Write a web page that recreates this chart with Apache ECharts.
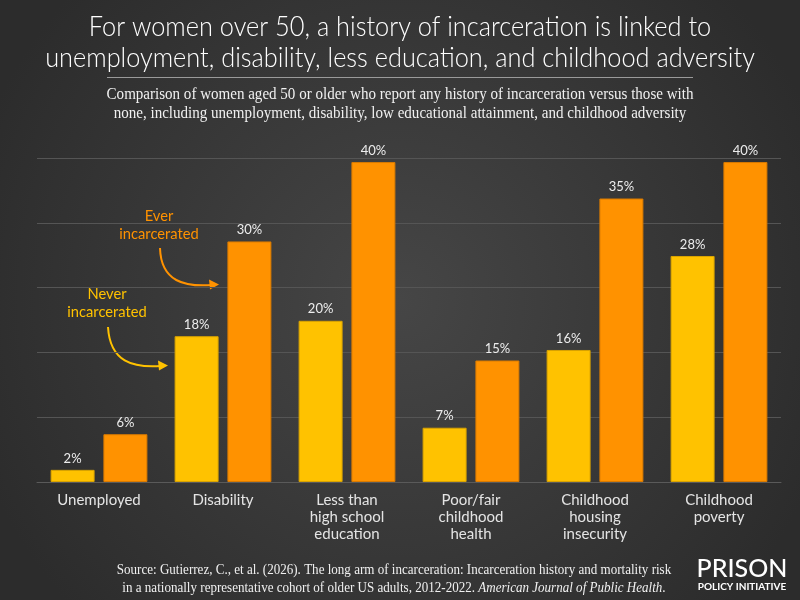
<!DOCTYPE html>
<html><head><meta charset="utf-8">
<script src="https://cdn.jsdelivr.net/npm/echarts@6/dist/echarts.min.js"></script>
<style>html,body{margin:0;padding:0;background:#3a3a3a}#c{width:800px;height:600px}</style>
</head><body><div id="c"></div>
<script>
const categories = ['Unemployed','Disability','Less than\nhigh school\neducation','Poor/fair\nchildhood\nhealth','Childhood\nhousing\ninsecurity','Childhood\npoverty'];
const neverIncarcerated = [1.5, 18.0, 19.9, 6.7, 16.3, 27.9];
const everIncarcerated = [5.9, 29.7, 39.5, 15.0, 35.0, 39.5];
const yTicks = [0, 8, 16, 24, 32, 40];
const titleLines = ['For women over 50, a history of incarceration is linked to','unemployment, disability, less education, and childhood adversity'];
const subtitleLines = ['Comparison of women aged 50 or older who report any history of incarceration versus those with','none, including unemployment, disability, low educational attainment, and childhood adversity'];

const YEL = '#FFC200', ORG = '#FF9200';
const sans = 'Lato';
const chart = echarts.init(document.getElementById('c'));
const pct = p => Math.round(p.value) + '%';
const labelCfg = {show:true, position:'top', distance:5, color:'#ededed', fontFamily:sans, fontSize:13, formatter:pct};

chart.setOption({
  backgroundColor:'#3a3a3a',
  animation:false,
  grid:{left:37, right:19, top:158, bottom:118},
  xAxis:{type:'category', data:categories,
    axisLine:{lineStyle:{color:'#5a5a5a', width:1}}, axisTick:{show:false},
    axisLabel:{color:'#e4e4e4', fontFamily:sans, fontSize:15, lineHeight:17, margin:10, interval:0}},
  yAxis:{type:'value', min:yTicks[0], max:yTicks[yTicks.length-1], interval:yTicks[1]-yTicks[0],
    axisLabel:{show:false}, axisLine:{show:false}, axisTick:{show:false},
    splitLine:{lineStyle:{color:'#555555', width:1}}},
  series:[
    {name:'Never incarcerated', type:'bar', data:neverIncarcerated, barWidth:44, barGap:'20%',
     itemStyle:{color:YEL, borderColor:'#d9a300', borderWidth:1}, label:labelCfg},
    {name:'Ever incarcerated', type:'bar', data:everIncarcerated, barWidth:44, barGap:'20%',
     itemStyle:{color:ORG, borderColor:'#d97a00', borderWidth:1}, label:labelCfg}
  ],
  graphic:[
    {type:'rect', z:-100, silent:true, shape:{x:0,y:0,width:800,height:600},
     style:{fill:{type:'radial', x:0.5, y:0.5, r:0.75, colorStops:[{offset:0,color:'#464646'},{offset:1,color:'#2c2c2c'}]}}},
    {type:'text', x:400, y:27, scaleX:0.905, style:{text:titleLines[0], font:'300 28px Lato', fill:'#ffffff', textAlign:'center', textVerticalAlign:'middle'}},
    {type:'text', x:400, y:58, scaleX:0.905, style:{text:titleLines[1], font:'300 28px Lato', fill:'#ffffff', textAlign:'center', textVerticalAlign:'middle'}},
    {type:'line', shape:{x1:107,y1:77.5,x2:693,y2:77.5}, style:{stroke:'#9a9a9a', lineWidth:1}},
    {type:'text', x:400, y:95, scaleX:0.94, style:{text:subtitleLines[0], font:'16px "Liberation Serif"', fill:'#f0f0f0', textAlign:'center', textVerticalAlign:'middle'}},
    {type:'text', x:400, y:114, scaleX:0.94, style:{text:subtitleLines[1], font:'16px "Liberation Serif"', fill:'#f0f0f0', textAlign:'center', textVerticalAlign:'middle'}},
    {type:'text', x:394, y:570, scaleX:0.87, style:{text:'Source: Gutierrez, C., et al. (2026). The long arm of incarceration: Incarceration history and mortality risk', font:'15px "Liberation Serif"', fill:'#f0f0f0', textAlign:'center', textVerticalAlign:'middle'}},
    {type:'text', x:394, y:588, scaleX:0.87, style:{text:'in a nationally representative cohort of older US adults, 2012-2022. {i|American Journal of Public Health}.', font:'15px "Liberation Serif"', fill:'#f0f0f0', textAlign:'center', textVerticalAlign:'middle', rich:{i:{fontStyle:'italic', fontFamily:'Liberation Serif', fontSize:15, fill:'#f0f0f0'}}}},
    {type:'text', x:742, y:569, style:{text:'PRISON', font:'500 25px Lato', fill:'#ffffff', textAlign:'center', textVerticalAlign:'middle'}},
    {type:'text', x:742, y:587, style:{text:'POLICY INITIATIVE', font:'bold 10px Lato', fill:'#ffffff', textAlign:'center', textVerticalAlign:'middle'}},
    {type:'text', x:159, y:216, scaleX:0.92, style:{text:'Ever', font:'16px Lato', fill:ORG, textAlign:'center', textVerticalAlign:'middle'}},
    {type:'text', x:159, y:234, scaleX:0.92, style:{text:'incarcerated', font:'16px Lato', fill:ORG, textAlign:'center', textVerticalAlign:'middle'}},
    {type:'bezierCurve', shape:{x1:160,y1:248,cpx1:161,cpy1:282,cpx2:185,cpy2:287,x2:212,y2:285}, style:{stroke:ORG, lineWidth:2, fill:null}},
    {type:'polygon', shape:{points:[[219,284.5],[209,279.5],[210,289.5]]}, style:{fill:ORG}},
    {type:'text', x:107, y:294, scaleX:0.92, style:{text:'Never', font:'16px Lato', fill:YEL, textAlign:'center', textVerticalAlign:'middle'}},
    {type:'text', x:107, y:312, scaleX:0.92, style:{text:'incarcerated', font:'16px Lato', fill:YEL, textAlign:'center', textVerticalAlign:'middle'}},
    {type:'bezierCurve', shape:{x1:108,y1:327,cpx1:110,cpy1:362,cpx2:133,cpy2:368,x2:161,y2:366}, style:{stroke:YEL, lineWidth:2, fill:null}},
    {type:'polygon', shape:{points:[[168,365.5],[158,360.5],[159,370.5]]}, style:{fill:YEL}}
  ]
});
</script></body></html>
